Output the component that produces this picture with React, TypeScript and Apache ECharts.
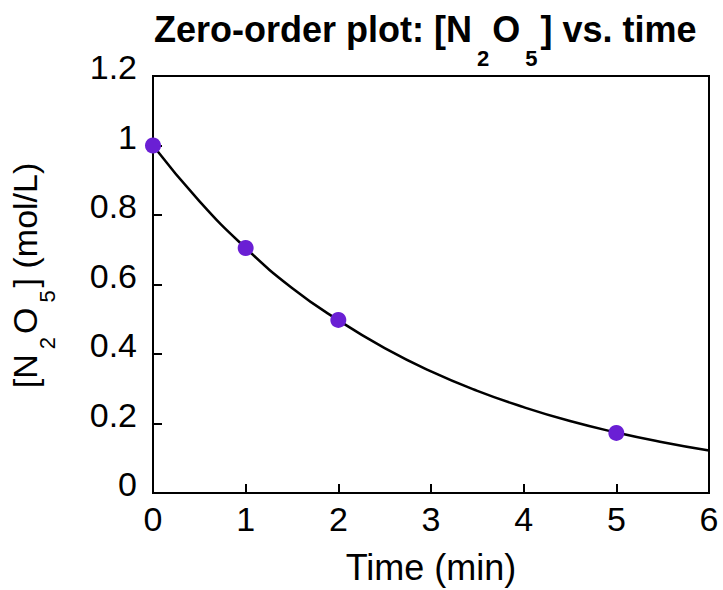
import React, { useEffect, useRef } from "react";
import * as echarts from "echarts";

const FONT = "'Liberation Sans', Arial, Helvetica, sans-serif";

// measured data points
const dataTimes = [0, 1, 2, 5];
const dataConc = [1.0, 0.705, 0.498, 0.173];

// fitted curve
const curveTimes = [0, 0.5, 1, 1.5, 2, 2.5, 3, 3.5, 4, 4.5, 5, 5.5, 6];
const curveConc = [1.0, 0.84, 0.705, 0.59, 0.497, 0.417, 0.35, 0.294, 0.247, 0.207, 0.174, 0.146, 0.122];

const xTicks = { min: 0, max: 6, interval: 1 };
const yTicks = { min: 0, max: 1.2, interval: 0.2 };

export default function App() {
  const ref = useRef<HTMLDivElement>(null);
  useEffect(() => {
    if (!ref.current) return;
    const chart = echarts.init(ref.current, undefined, { renderer: "svg" });
    chart.setOption({
      animation: false,
      backgroundColor: "#fff",
      title: {
        text: "{b|Zero-order plot: [N}{s|2}{b|O}{s|5}{b|] vs. time}",
        left: 154,
        top: -11,
        padding: 0,
        textStyle: {
          rich: {
            b: { fontSize: 36, fontWeight: "bold", fontFamily: FONT, color: "#000" },
            s: { fontSize: 22, fontWeight: "bold", fontFamily: FONT, color: "#000", padding: [58, 3, 0, 5] },
          },
        },
      },
      grid: {
        left: 152,
        right: 14,
        top: 76,
        bottom: 97,
        show: true,
        borderColor: "#000",
        borderWidth: 2,
        backgroundColor: "transparent",
      },
      xAxis: {
        type: "value",
        min: xTicks.min,
        max: xTicks.max,
        interval: xTicks.interval,
        name: "Time (min)",
        nameLocation: "middle",
        nameGap: 56,
        nameTextStyle: { fontSize: 36, fontFamily: FONT, color: "#000" },
        axisLine: { lineStyle: { color: "#000", width: 2 } },
        axisTick: { inside: true, length: 9, lineStyle: { color: "#000", width: 2 } },
        axisLabel: { fontSize: 34, fontFamily: FONT, color: "#000", margin: 9 },
        splitLine: { show: false },
      },
      yAxis: {
        type: "value",
        min: yTicks.min,
        max: yTicks.max,
        interval: yTicks.interval,
        name: "{f|[N}{s|2}{b|O}{s|5}{b|] (mol/L)}",
        nameLocation: "middle",
        nameRotate: 90,
        nameGap: 95,
        nameTextStyle: {
          rich: {
            f: { fontSize: 34, fontFamily: FONT, color: "#000", padding: [0, 0, 0, 18] },
            b: { fontSize: 34, fontFamily: FONT, color: "#000" },
            s: { fontSize: 22, fontFamily: FONT, color: "#000", padding: [44, 3, 0, 5] },
          },
        },
        axisLine: { lineStyle: { color: "#000", width: 2 } },
        axisTick: { inside: true, length: 9, lineStyle: { color: "#000", width: 2 } },
        axisLabel: { fontSize: 34, fontFamily: FONT, color: "#000", margin: 16, verticalAlign: "bottom", lineHeight: 18 },
        splitLine: { show: false },
      },
      series: [
        {
          type: "line",
          data: curveTimes.map((t, i) => [t, curveConc[i]]),
          smooth: true,
          showSymbol: false,
          symbol: "none",
          lineStyle: { color: "#000", width: 2.5 },
          z: 2,
        },
        {
          type: "scatter",
          data: dataTimes.map((t, i) => [t, dataConc[i]]),
          symbol: "circle",
          symbolSize: 16,
          itemStyle: { color: "#6a1fd4", opacity: 1 },
          z: 3,
        },
      ],
    });
    return () => chart.dispose();
  }, []);
  return <div ref={ref} style={{ width: 723, height: 590, position: "absolute", left: 0, top: 0 }} />;
}
